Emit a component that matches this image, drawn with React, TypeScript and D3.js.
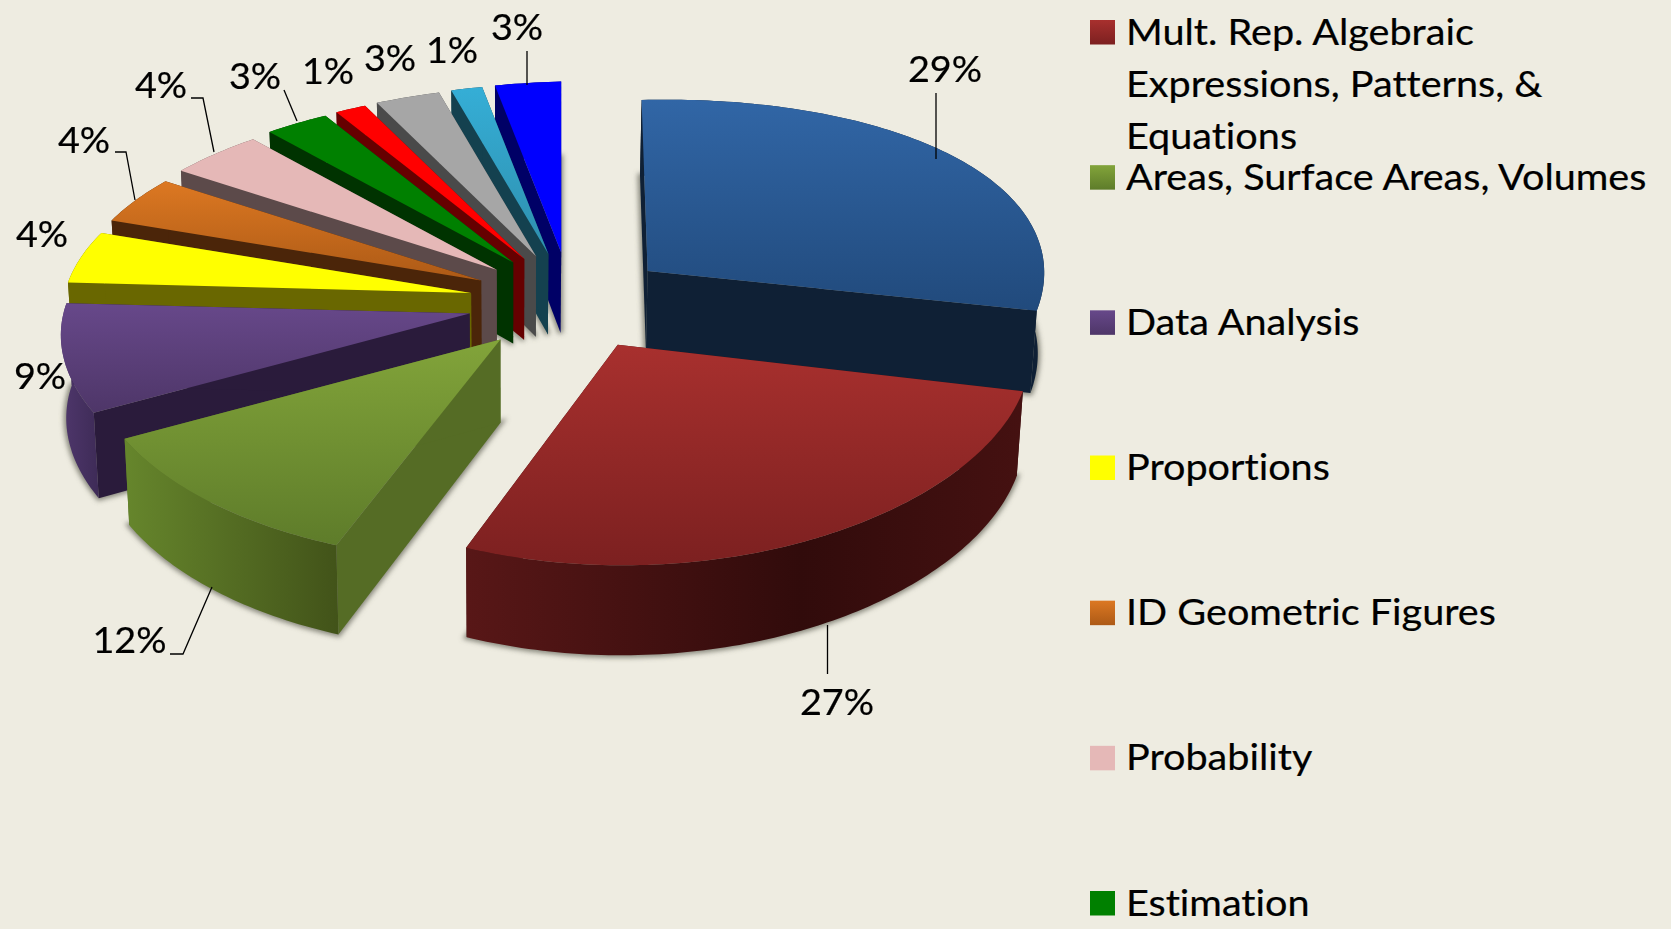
import React from "react";
import * as d3 from "d3";

// slices, clockwise from 12 o'clock
const names = [
  "",
  "Mult. Rep. Algebraic|Expressions, Patterns, &|Equations",
  "Areas, Surface Areas, Volumes",
  "Data Analysis",
  "Proportions",
  "ID Geometric Figures",
  "Probability",
  "Estimation",
  "",
  "",
  "",
  "",
];
// the labels show them rounded
const values = [29, 27.2, 11.5, 9, 4.45, 4.05, 4.05, 2.7, 1.3, 2.7, 1.3, 2.75];

const topColors = [
  ["#3166a6", "#214a7c"],
  ["#a8302e", "#7c2020"],
  ["#82a43a", "#5e7c2a"],
  ["#67488a", "#4e3668"],
  ["#ffff00", "#ffff00"],
  ["#dc7822", "#ad5a16"],
  ["#e5b8b7", "#e5b8b7"],
  ["#008000", "#008000"],
  ["#ff0000", "#ff0000"],
  ["#a6a6a6", "#a6a6a6"],
  ["#35aed6", "#2e8fae"],
  ["#0000ff", "#0000ff"],
];
const wallColors = [
  "#0f2035", "#3d0f0f", "#556c25", "#2a1b3b", "#696700", "#4b2509",
  "#5c4a4a", "#003300", "#660000", "#4a4a4a", "#14414f", "#000066",
];
const rimColors = [
  ["#0f2035", "#0f2035"],
  ["#581717", "#310b0b"],
  ["#66862c", "#425319"],
  ["#4f376c", "#3e2b57"],
  ["#696700", "#696700"],
  ["#4b2509", "#4b2509"],
  ["#5c4a4a", "#5c4a4a"],
  ["#003300", "#003300"],
  ["#660000", "#660000"],
  ["#4a4a4a", "#4a4a4a"],
  ["#14414f", "#14414f"],
  ["#000066", "#000066"],
];

// label centre/baseline and optional leader line, same order as values
const labelPos = [
  { x: 945, y: 82, leader: [[936, 93], [936, 159]] },
  { x: 837, y: 715, leader: [[827.5, 625], [827.5, 674]] },
  { x: 129.5, y: 653, leader: [[212, 587], [183, 654], [170, 654]] },
  { x: 40, y: 389, leader: null },
  { x: 42, y: 247, leader: null },
  { x: 84, y: 153, leader: [[115, 152], [126, 152], [135, 200]] },
  { x: 161, y: 98, leader: [[191, 98], [203, 98], [214, 152]] },
  { x: 255, y: 89, leader: [[284, 90], [297, 121]] },
  { x: 328, y: 84, leader: null },
  { x: 390, y: 71, leader: null },
  { x: 452, y: 63, leader: null },
  { x: 517, y: 40, leader: [[527, 51], [527, 85]] },
];

const width = 1671;
const height = 929;
const bg = "#eeece1";
const fontFamily = "Lato, Carlito, sans-serif";

type Pt = [number, number];

const center: Pt = [570, 301];
const explode: Pt = [102, 49];

// the two big slices sit a little off the common ellipse
const tipShift = (i: number) => (i === 0 ? -3 : i === 1 ? 2 : 0);
const rimShift = (i: number) => (i === 0 ? -6 : i === 1 ? 10 : 0);
const rimScale = (i: number) => (i < 2 ? 0.985 : 1);
const rimSkew = (i: number) => (i === 1 ? -3 : -10);

// rim of the tilted pie, relative to the slice's own tip
const rim = (a: number, i: number): Pt => {
  const X = Math.sin(a);
  const Y = Math.cos(a);
  return [
    (408 * rimScale(i) * X) / (1 + 0.06 * Y) + rimShift(i),
    (-192.6 * Y) / (1 + 0.1265 * Y) + rimSkew(i) * X,
  ];
};

// same point on the bottom face
const lower = (p: Pt): Pt => [
  p[0] - 0.012 * (p[0] - 510),
  p[1] + 85 + 0.03 * (p[1] - 400),
];

const line = d3.line<Pt>();
const closed = (pts: Pt[]) => line(pts) + "Z";

const pie = d3
  .pie<number>()
  .sort(null)
  .value((d) => d);

const slices = pie(values).map((s, i) => {
  const mid = (s.startAngle + s.endAngle) / 2;
  const tip: Pt = [
    center[0] + explode[0] * Math.sin(mid) + tipShift(i),
    center[1] - explode[1] * Math.cos(mid) + 4 * Math.max(0, -Math.sin(mid)),
  ];
  const steps = d3.range(s.startAngle, s.endAngle, Math.PI / 180).concat(s.endAngle);
  const arc = steps.map((a): Pt => {
    const r = rim(a, i);
    return [tip[0] + r[0], tip[1] + r[1]];
  });
  return { i, mid, tip, arc, arcLow: arc.map(lower), tipLow: lower(tip) };
});

// far slices first, near ones paint over them
const drawOrder = [...slices].sort((a, b) => Math.cos(b.mid) - Math.cos(a.mid));

const legendItems = names
  .map((name, i) => ({ name, i }))
  .filter((d) => d.name !== "");

const legendY = d3.scaleLinear().domain([1, 7]).range([32, 903]);

const textStyle: React.CSSProperties = { fontVariantLigatures: "none" };

export default function App() {
  return (
    <>
      <style>{`body{margin:0;background:${bg}}`}</style>
      <svg
        width={width}
        height={height}
        style={{ display: "block", position: "absolute", left: 0, top: 0 }}
      >
        <defs>
          <filter id="soft" x="-20%" y="-20%" width="140%" height="140%">
            <feGaussianBlur stdDeviation="2.5" />
          </filter>
          {slices.map((s) => (
            <linearGradient key={s.i} id={`top${s.i}`} x1="0" y1="0" x2="0" y2="1">
              <stop offset="0" stopColor={topColors[s.i][0]} />
              <stop offset="1" stopColor={topColors[s.i][1]} />
            </linearGradient>
          ))}
          {slices.map((s) => (
            <linearGradient key={s.i} id={`rim${s.i}`} x1="0" y1="0" x2="1" y2="0">
              <stop offset="0" stopColor={rimColors[s.i][0]} />
              <stop offset={s.i === 1 ? 0.6 : 1} stopColor={rimColors[s.i][1]} />
              <stop offset="1" stopColor={s.i === 1 ? "#451111" : rimColors[s.i][1]} />
            </linearGradient>
          ))}
        </defs>
        <rect width={width} height={height} fill={bg} />

        {/* soft shadow under each bottom face */}
        <g filter="url(#soft)">
          {slices.map((s) => (
            <path
              key={s.i}
              d={closed([s.tipLow, ...s.arcLow])}
              fill="#77776c"
              stroke="#77776c"
              strokeWidth={5}
              opacity={0.85}
            />
          ))}
        </g>

        {drawOrder.map((s) => {
          const first = s.arc[0];
          const last = s.arc[s.arc.length - 1];
          return (
            <g key={s.i}>
              <path
                d={closed([s.tip, first, lower(first), s.tipLow])}
                fill={wallColors[s.i]}
              />
              <path
                d={closed([s.tip, last, lower(last), s.tipLow])}
                fill={wallColors[s.i]}
              />
              <path
                d={closed([...s.arc, ...[...s.arcLow].reverse()])}
                fill={`url(#rim${s.i})`}
              />
              <path d={closed([s.tip, ...s.arc])} fill={`url(#top${s.i})`} />
            </g>
          );
        })}

        {/* data labels */}
        {labelPos.map((l, i) => (
          <g key={i}>
            {l.leader && (
              <path
                d={line(l.leader as Pt[]) as string}
                fill="none"
                stroke="#000"
                strokeWidth={1.3}
              />
            )}
            <text
              transform={`translate(${l.x},${l.y}) scale(1.05,1)`}
              textAnchor="middle"
              fontFamily={fontFamily}
              fontSize={36}
              fill="#000"
              stroke="#000"
              strokeWidth={0.2}
              style={textStyle}
            >
              {Math.round(values[i])}%
            </text>
          </g>
        ))}

        {/* legend, runs off the bottom of the frame */}
        {legendItems.map((d) => {
          const y = legendY(d.i);
          return (
            <g key={d.i}>
              <rect
                x={1090}
                y={y - 12}
                width={25}
                height={24.5}
                fill={`url(#top${d.i})`}
              />
              {d.name.split("|").map((t, k) => (
                <text
                  key={k}
                  transform={`translate(1126,${y + 12.5 + k * 52}) scale(1.1,1)`}
                  fontFamily={fontFamily}
                  fontSize={36}
                  fill="#000"
                  stroke="#000"
                  strokeWidth={0.2}
                  style={textStyle}
                >
                  {t}
                </text>
              ))}
            </g>
          );
        })}
      </svg>
    </>
  );
}
